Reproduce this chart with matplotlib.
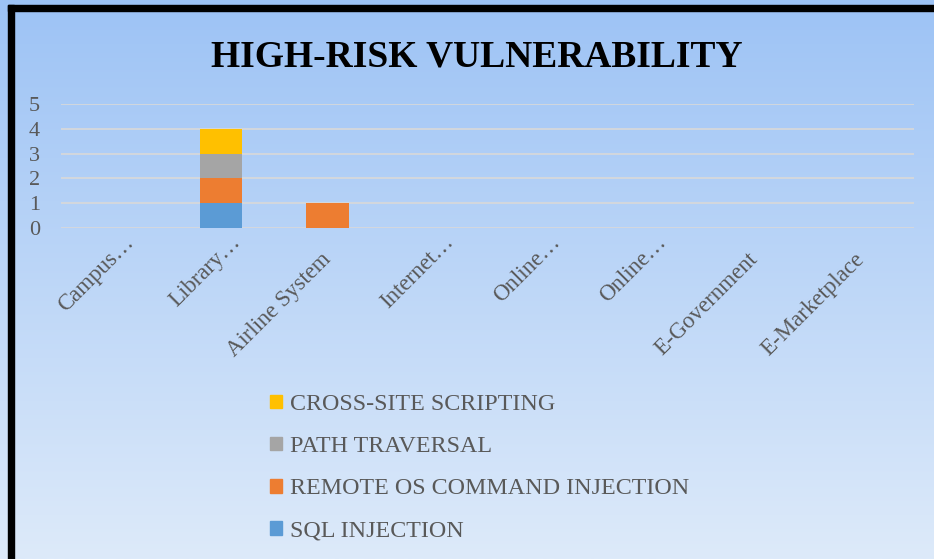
import numpy as np
import matplotlib
matplotlib.use("Agg")
import matplotlib.pyplot as plt
from matplotlib.patches import Patch, Rectangle
from matplotlib.transforms import ScaledTranslation

categories = ["Campus…", "Library…", "Airline System", "Internet…", "Online…",
              "Online…", "E-Government", "E-Marketplace"]
sql_injection = [0, 1, 0, 0, 0, 0, 0, 0]
remote_os = [0, 1, 1, 0, 0, 0, 0, 0]
path_traversal = [0, 1, 0, 0, 0, 0, 0, 0]
cross_site = [0, 1, 0, 0, 0, 0, 0, 0]
series_names = ["SQL INJECTION", "REMOTE OS COMMAND INJECTION", "PATH TRAVERSAL",
                "CROSS-SITE SCRIPTING"]
y_ticks = [0, 1, 2, 3, 4, 5]

colors = ["#5B9BD5", "#ED7D31", "#A5A5A5", "#FFC000"]
serif = ["Liberation Serif", "DejaVu Serif"]
text_gray = "#595959"

W, H = 934, 559
fig = plt.figure(figsize=(W / 100, H / 100), dpi=100)

# gradient background
bg = fig.add_axes([0, 0, 1, 1], zorder=-10)
top = np.array([157, 195, 245]) / 255
bot = np.array([221, 234, 250]) / 255
t = np.linspace(0, 1, 256)[:, None]
grad = top[None, :] * (1 - t) + bot[None, :] * t
bg.imshow(grad[:, None, :], aspect="auto", extent=[0, 1, 0, 1])
bg.set_xlim(0, 1); bg.set_ylim(0, 1)
bg.axis("off")

# black frame (top and left)
fig.patches.append(Rectangle((8 / W, 0), 6 / W, 1 - 5 / H, transform=fig.transFigure,
                             color="black", zorder=5))
fig.patches.append(Rectangle((8 / W, 1 - 11 / H), 1, 6 / H, transform=fig.transFigure,
                             color="black", zorder=5))

ax = fig.add_axes([61 / W, 1 - 228 / H, (914 - 61) / W, (228 - 104) / H])
ax.set_facecolor("none")
x = np.arange(len(categories))
data = [sql_injection, remote_os, path_traversal, cross_site]
bottom = np.zeros(len(categories))
for vals, c, name in zip(data, colors, series_names):
    ax.bar(x, vals, width=0.4, bottom=bottom, color=c, label=name, zorder=3)
    bottom += np.array(vals)

ax.set_xlim(-0.5, len(categories) - 0.5)
ax.set_ylim(0, 5)
ax.set_yticks(y_ticks)
ax.set_yticklabels([str(v) for v in y_ticks], family=serif, fontsize=16, color=text_gray)
ax.set_xticks(x)
ax.set_xticklabels(categories, family=serif, fontsize=16.5, color=text_gray,
                   rotation=45, ha="right", va="baseline", rotation_mode="anchor")
ax.tick_params(axis="both", length=0)
ax.tick_params(axis="y", pad=15)
ax.tick_params(axis="x", pad=0)
for lbl in ax.get_xticklabels():
    if lbl.get_text().endswith("…"):
        dx, dy = 20, -15
    else:
        dx, dy = 4, -32
    lbl.set_transform(lbl.get_transform() +
                      ScaledTranslation(dx / 100, dy / 100, fig.dpi_scale_trans))
ax.yaxis.grid(True, color="#D9D9D9", linewidth=1.2, zorder=0)
ax.set_axisbelow(True)
for s in ax.spines.values():
    s.set_visible(False)

fig.text(477 / W, 1 - 57 / H, "HIGH-RISK VULNERABILITY", family=serif, fontweight="bold",
         fontsize=27, ha="center", va="center", color="black")

handles = [Patch(color=c) for c in colors][::-1]
leg = fig.legend(handles, series_names[::-1], loc="upper left",
                 bbox_to_anchor=(270 / W, 1 - 394 / H), frameon=False,
                 prop={"family": serif, "size": 17.3}, labelcolor=text_gray,
                 handlelength=0.5, handleheight=0.5, handletextpad=0.35,
                 labelspacing=0.88, borderaxespad=0, borderpad=0)

fig.savefig("out.png", dpi=100)
